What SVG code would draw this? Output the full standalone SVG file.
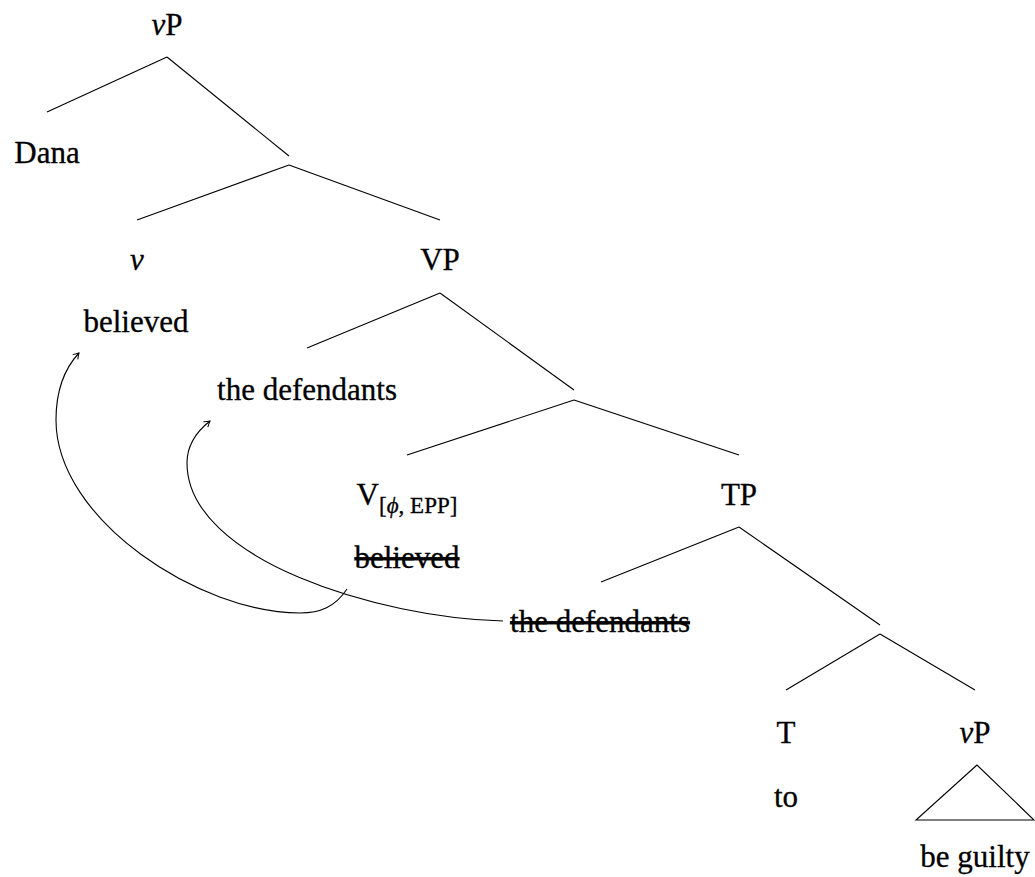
<svg xmlns="http://www.w3.org/2000/svg" width="1035" height="877" viewBox="0 0 1035 877">
<style>
text{font-family:'Liberation Serif','Times New Roman',Times,'DejaVu Serif',serif;font-size:31px;fill:#000;stroke:#000;stroke-width:0.3;text-anchor:middle}
.it{font-style:italic}
.sub{font-size:23px}
.strike{text-decoration:line-through}
.edge{stroke:#000;stroke-width:1.1;fill:none}
.move{stroke:#000;stroke-width:1.1;fill:none;marker-end:url(#arr)}
</style>
<defs>
<marker id="arr" markerUnits="userSpaceOnUse" markerWidth="12" markerHeight="12" refX="0" refY="0" viewBox="-8 -6 10 12" orient="auto">
<path d="M -5.5 -3.5 Q -2 -1 0 0 Q -2 1 -5.5 3.5" stroke="#000" stroke-width="1" fill="none"/>
</marker>
</defs>
<g id="edges">
<line class="edge" x1="167" y1="57" x2="47" y2="112"/>
<line class="edge" x1="167" y1="57" x2="289" y2="156"/>
<line class="edge" x1="289" y1="165" x2="137" y2="220"/>
<line class="edge" x1="289" y1="165" x2="440" y2="220"/>
<line class="edge" x1="440" y1="293" x2="307" y2="348"/>
<line class="edge" x1="440" y1="293" x2="574" y2="390"/>
<line class="edge" x1="574" y1="400" x2="407" y2="455"/>
<line class="edge" x1="574" y1="400" x2="739" y2="455"/>
<line class="edge" x1="739" y1="527" x2="601" y2="582"/>
<line class="edge" x1="739" y1="527" x2="880" y2="625"/>
<line class="edge" x1="880" y1="634" x2="786" y2="690"/>
<line class="edge" x1="880" y1="634" x2="975" y2="690"/>
<polygon class="edge" points="977,765 916,820 1034,820"/>
<path class="move" d="M 347 589 C 335 607 320 613 300 613 C 200 613 56 520 56 420 C 56 390 65 368 79 353"/>
<path class="move" d="M 503 621 C 380 618 187 560 187 463 C 187 445 196 432 210 421"/>
</g>
<g id="n-vP-top"><text x="167" y="35"><tspan class="it">v</tspan>P</text></g>
<g id="n-Dana"><text x="47" y="163">Dana</text></g>
<g id="n-v"><text x="137" y="270" class="it">v</text></g>
<g id="n-believed"><text x="136" y="332">believed</text></g>
<g id="n-VP"><text x="440" y="270">VP</text></g>
<g id="n-defendants"><text x="307" y="400">the defendants</text></g>
<g id="n-V"><text x="407" y="505">V<tspan class="sub" dy="8">[<tspan class="it">ϕ</tspan>, EPP]</tspan></text></g>
<g id="n-believed-trace"><text x="407" y="568" class="strike">believed</text></g>
<g id="n-TP"><text x="739" y="505">TP</text></g>
<g id="n-defendants-trace"><text x="600" y="632" class="strike">the defendants</text></g>
<g id="n-T"><text x="786" y="743">T</text></g>
<g id="n-to"><text x="786" y="807">to</text></g>
<g id="n-vP-low"><text x="975" y="743"><tspan class="it">v</tspan>P</text></g>
<g id="n-beguilty"><text x="975" y="867">be guilty</text></g>
</svg>
